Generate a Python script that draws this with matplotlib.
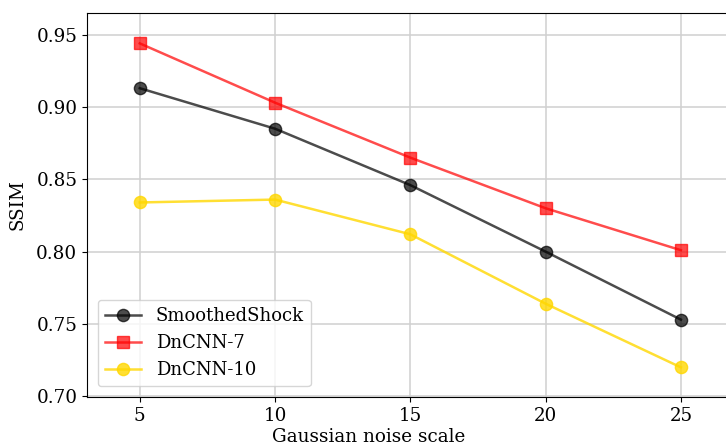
import matplotlib
matplotlib.use("Agg")
import matplotlib.pyplot as plt

# noise scales on the x axis
noise = [5, 10, 15, 20, 25]

# SSIM for each model
smoothed_shock = [0.913, 0.885, 0.846, 0.800, 0.753]
dncnn_7 = [0.944, 0.903, 0.865, 0.830, 0.801]
dncnn_10 = [0.834, 0.836, 0.812, 0.764, 0.720]

plt.rcParams["font.family"] = "DejaVu Serif"
plt.rcParams["font.size"] = 13.2

fig = plt.figure(figsize=(7.26, 4.48), dpi=100)
# axes run past the right edge, like the cropped original
ax = fig.add_axes([87 / 726, 1 - 397 / 448, 648 / 726, 384 / 448])

ax.plot(noise, smoothed_shock, "o-", color="black", alpha=0.7,
        lw=1.8, ms=8.8, label="SmoothedShock")
ax.plot(noise, dncnn_7, "s-", color="red", alpha=0.7,
        lw=1.8, ms=8.8, label="DnCNN-7")
ax.plot(noise, dncnn_10, "o-", color="gold", alpha=0.8,
        lw=1.8, ms=8.8, label="DnCNN-10")

ax.set_xlim(3.05, 27)
ax.set_ylim(0.6995, 0.965)
ax.set_xticks(noise)
ax.set_yticks([0.70, 0.75, 0.80, 0.85, 0.90, 0.95])
ax.set_yticklabels(["0.70", "0.75", "0.80", "0.85", "0.90", "0.95"])
ax.grid(True, color="#d0d0d0", lw=1.1)
ax.set_axisbelow(True)

ax.set_xlabel("Gaussian noise scale")
ax.xaxis.set_label_coords((369 - 87) / 648, -0.08)
ax.set_ylabel("SSIM", labelpad=7)

ax.legend(loc="lower left", fontsize=13, borderaxespad=0.6)

fig.savefig("out.png", dpi=100)
